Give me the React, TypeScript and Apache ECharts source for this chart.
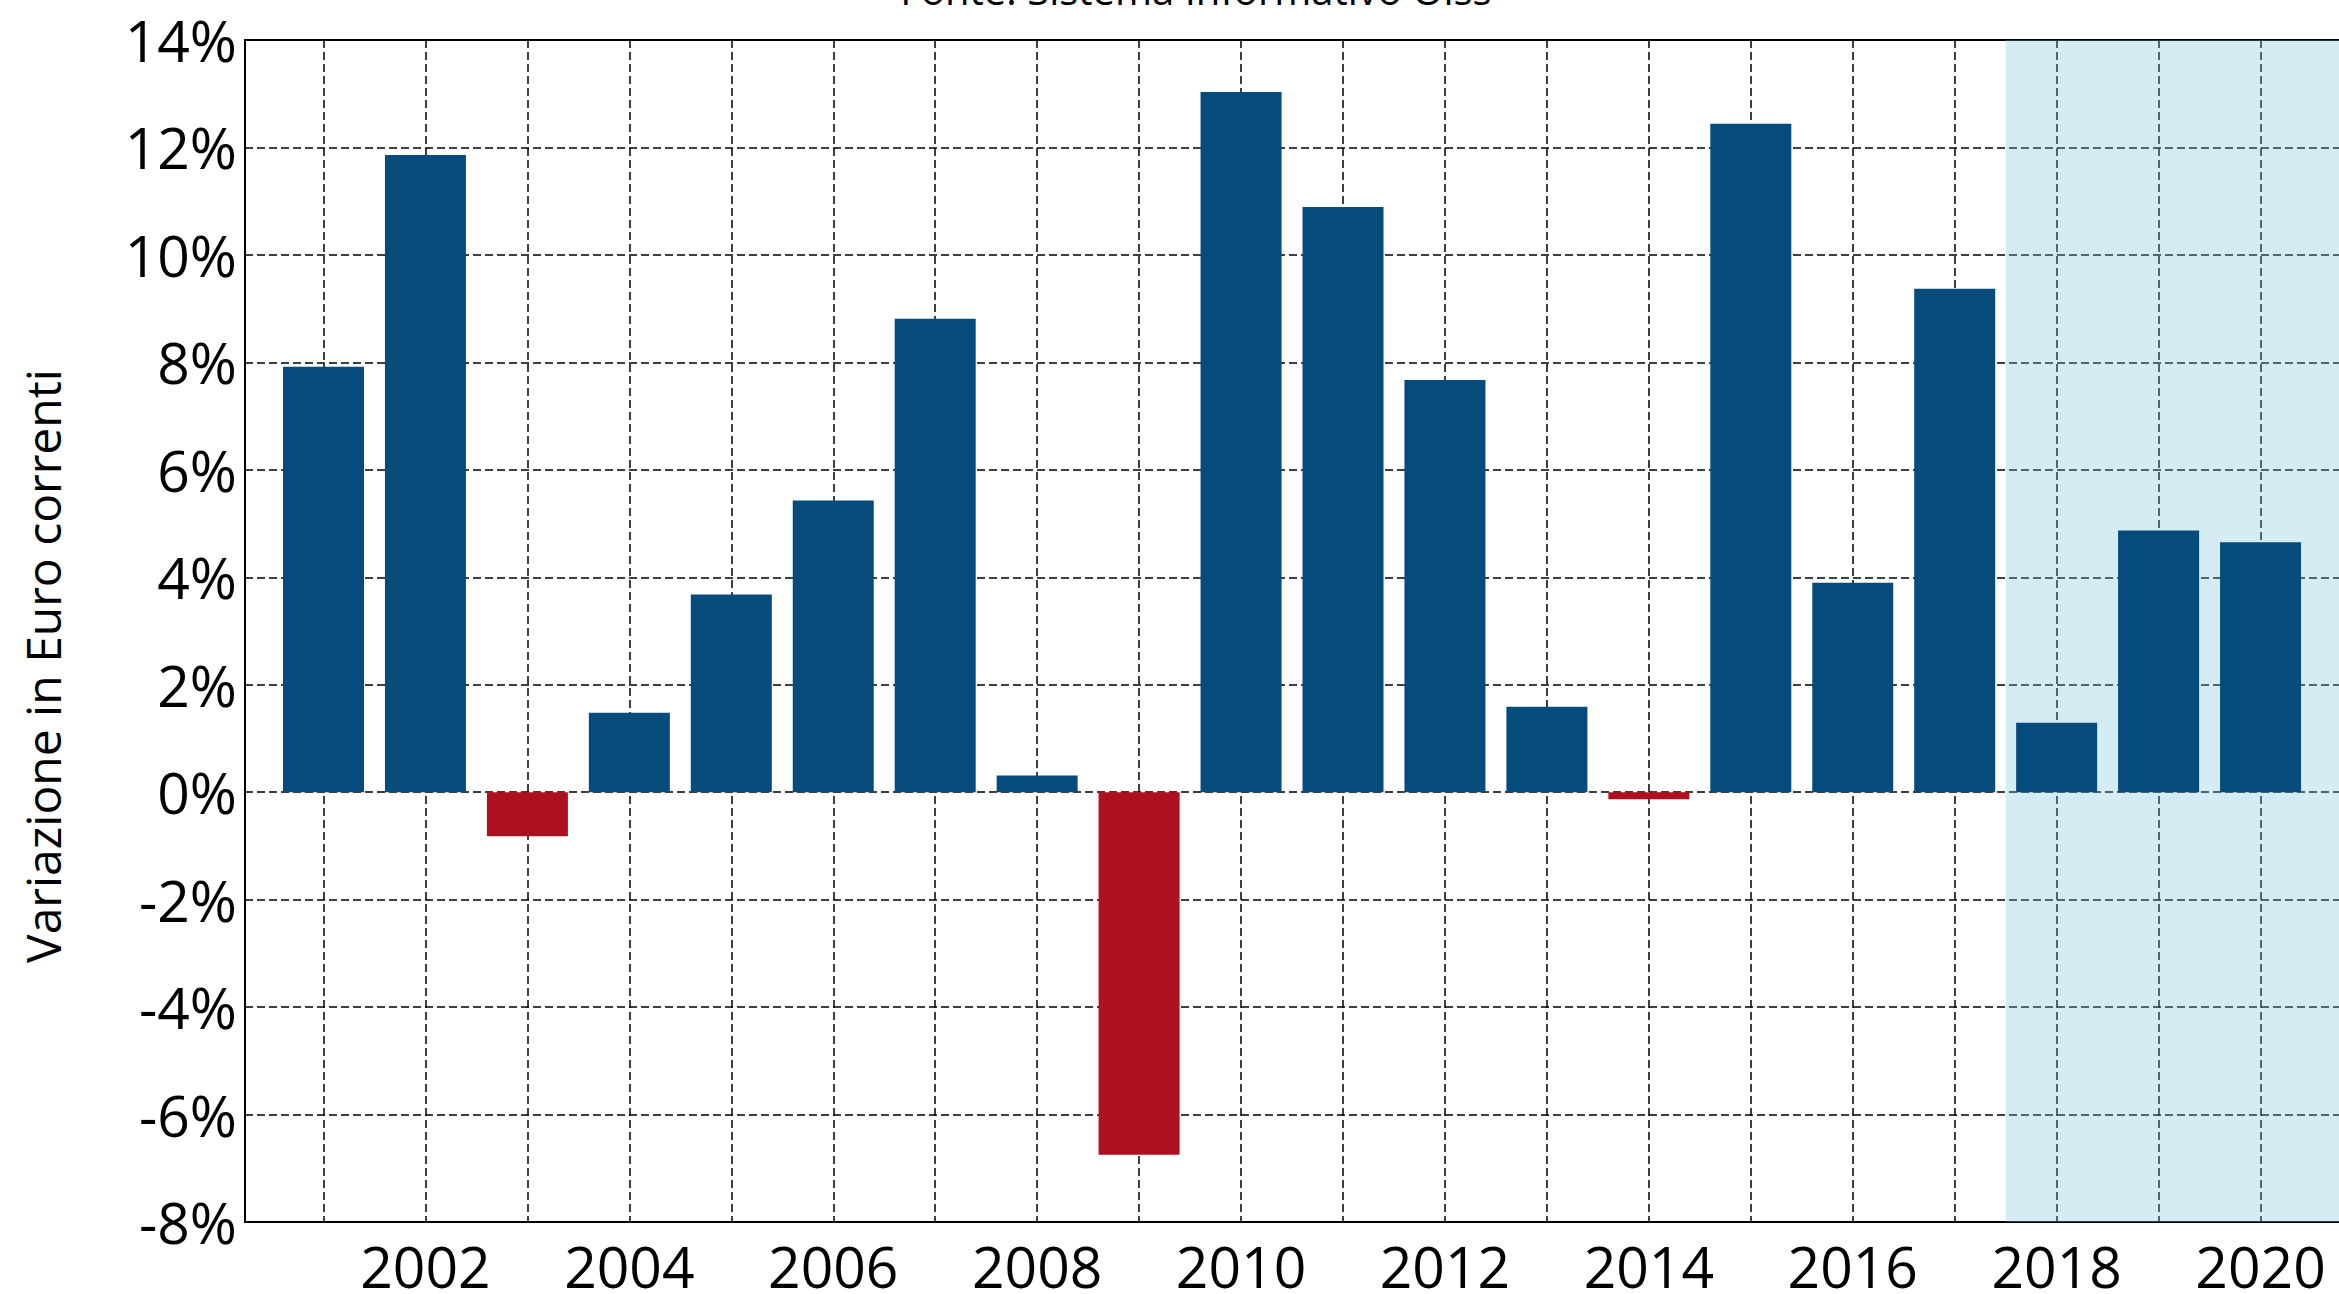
import React, { useEffect, useRef } from "react";
import * as echarts from "echarts";

const years = [2001, 2002, 2003, 2004, 2005, 2006, 2007, 2008, 2009, 2010, 2011, 2012, 2013, 2014, 2015, 2016, 2017, 2018, 2019, 2020];
const values = [7.92, 11.86, -0.82, 1.48, 3.68, 5.43, 8.81, 0.31, -6.75, 13.03, 10.89, 7.67, 1.59, -0.13, 12.44, 3.9, 9.37, 1.29, 4.87, 4.65];
const xLabelYears = [2002, 2004, 2006, 2008, 2010, 2012, 2014, 2016, 2018, 2020];
const gridYears = years;
const forecastStart = 2017.5;
const xMin = 2000.23;
const xMax = 2021.77;
const yMin = -8;
const yMax = 14;
const yStep = 2;

const BLUE = "#054C7C";
const RED = "#AF1020";
const FONT = "Open Sans";

export default function App() {
  const ref = useRef<HTMLDivElement>(null);
  useEffect(() => {
    if (!ref.current) return;
    const chart = echarts.init(ref.current, null, { renderer: "svg" });
    chart.setOption({
      animation: false,
      backgroundColor: "#fff",
      grid: {
        left: 245,
        top: 40,
        bottom: 71,
        right: 0,
        show: true,
        borderColor: "#000",
        borderWidth: 2,
        backgroundColor: "transparent",
      },
      graphic: [
        {
          type: "text",
          x: 1196,
          y: -11,
          style: {
            text: "Fonte: Sistema Informativo Oiss",
            font: `40px "${FONT}"`,
            fill: "#000",
            align: "center",
            verticalAlign: "middle",
          },
        },
        {
          type: "text",
          x: 42,
          y: 666,
          rotation: Math.PI / 2,
          style: {
            text: "Variazione in Euro correnti",
            font: `48px "${FONT}"`,
            fill: "#000",
            align: "center",
            verticalAlign: "middle",
          },
        },
      ],
      xAxis: {
        type: "value",
        min: xMin,
        max: xMax,
        axisLine: { show: true, onZero: false, lineStyle: { color: "#000", width: 2 } },
        axisTick: { show: false, customValues: gridYears },
        axisLabel: {
          customValues: xLabelYears,
          formatter: (v: number) => String(Math.round(v)),
          fontSize: 57,
          fontFamily: FONT,
          color: "#000",
          margin: 15,
        },
        splitLine: { show: true, lineStyle: { color: "#000", width: 1.5, type: [8, 4] } },
      },
      yAxis: {
        type: "value",
        min: yMin,
        max: yMax,
        interval: yStep,
        axisLine: { show: true, lineStyle: { color: "#000", width: 2 } },
        axisTick: { show: false },
        axisLabel: {
          formatter: "{value}%",
          fontSize: 57,
          fontFamily: FONT,
          color: "#000",
          margin: 8,
        },
        splitLine: { show: true, lineStyle: { color: "#000", width: 1.5, type: [8, 4] } },
      },
      series: [
        {
          type: "bar",
          barWidth: 81,
          data: years.map((y, i) => ({
            value: [y, values[i]],
            itemStyle: { color: values[i] < 0 ? RED : BLUE },
          })),
          markArea: {
            silent: true,
            itemStyle: { color: "rgba(115,192,222,0.3)" },
            data: [[{ xAxis: forecastStart }, { xAxis: xMax }]],
          },
        },
      ],
    });
    return () => chart.dispose();
  }, []);
  return (
    <div
      style={{
        position: "absolute",
        left: 0,
        top: 0,
        width: 2339,
        height: 1294,
        overflow: "hidden",
      }}
    >
      <div ref={ref} style={{ width: 2441, height: 1294 }} />
    </div>
  );
}
